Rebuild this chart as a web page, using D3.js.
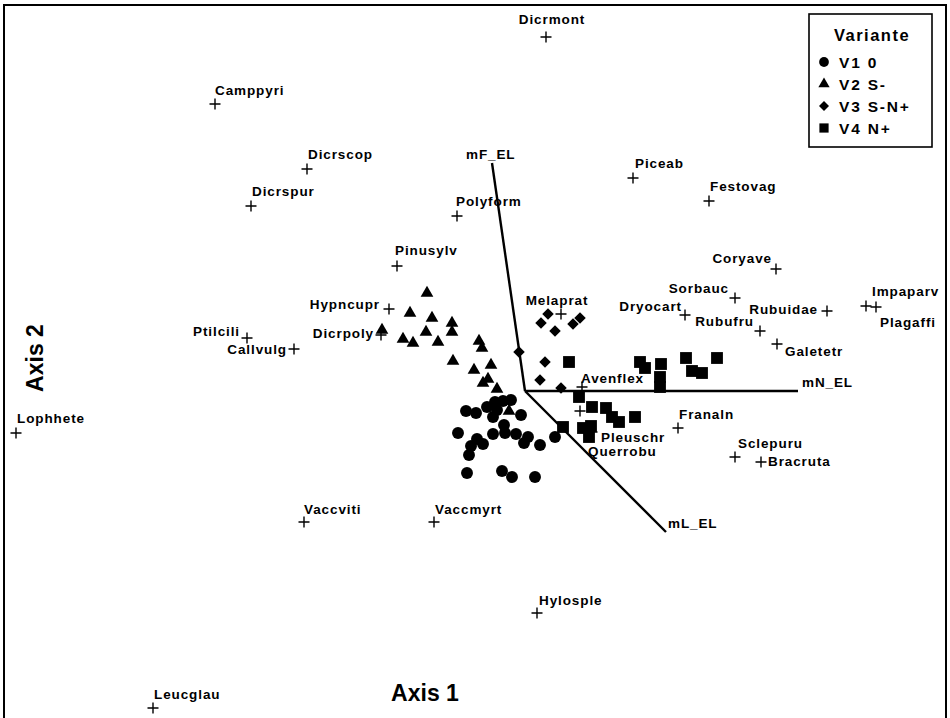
<!DOCTYPE html>
<html>
<head>
<meta charset="utf-8">
<script src="https://cdn.jsdelivr.net/npm/d3@7"></script>
<style>
  body { margin: 0; background: #fff; }
  svg { display: block; }
  text { font-family: "Liberation Sans", Arial, sans-serif; font-weight: bold; fill: #000; }
</style>
</head>
<body>
<svg id="chart" width="950" height="718"></svg>
<script>
// ---- species scores (axis 1, axis 2) ----
const speciesNames = ["Dicrmont","Camppyri","Dicrscop","Dicrspur","Polyform","Piceab","Festovag","Pinusylv",
  "Coryave","Sorbauc","Dryocart","Rubuidae","Impaparv","Plagaffi","Melaprat","Hypncupr","Dicrpoly","Ptilcili",
  "Callvulg","Rubufru","Galetetr","Avenflex","Lophhete","Franaln","Pleuschr","Querrobu","Sclepuru","Bracruta",
  "Vaccviti","Vaccmyrt","Hylosple","Leucglau"];
const speciesAxis1 = [0.21,-3.10,-2.18,-2.74,-0.68,1.08,1.84,-1.28,
  2.51,2.10,1.60,3.02,3.41,3.51,0.36,-1.36,-1.44,-2.78,
  -2.31,2.35,2.52,0.57,-5.09,1.53,0.55,0.67,2.10,2.36,
  -2.21,-0.91,0.12,-3.72];
const speciesAxis2 = [3.54,2.87,2.22,1.85,1.75,2.13,1.90,1.25,
  1.22,0.93,0.76,0.80,0.85,0.84,0.77,0.82,0.56,0.53,
  0.42,0.60,0.47,0.04,-0.42,-0.37,-0.20,-0.41,-0.66,-0.71,
  -1.31,-1.31,-2.22,-3.17];

// ---- environmental vectors ----
const vectorNames = ["mF_EL","mN_EL","mL_EL"];
const vectorAxis1 = [-0.33, 2.73, 1.41];
const vectorAxis2 = [2.28, 0.00, -1.41];

// ---- site scores by variant ----
const variantNames = ["V1 0","V2 S-","V3 S-N+","V4 N+"];
const sitesV1 = [[-0.59,-0.20],[-0.49,-0.22],[-0.38,-0.16],[-0.30,-0.11],[-0.22,-0.10],[-0.14,-0.09],
  [-0.28,-0.19],[-0.32,-0.26],[-0.04,-0.24],[-0.21,-0.34],[-0.20,-0.42],[-0.09,-0.43],[-0.32,-0.43],
  [-0.67,-0.42],[-0.48,-0.48],[-0.42,-0.53],[-0.54,-0.55],[-0.56,-0.64],[0.03,-0.46],[-0.01,-0.52],
  [0.15,-0.54],[0.30,-0.46],[-0.58,-0.82],[-0.23,-0.80],[-0.13,-0.86],[0.10,-0.86]];
const sitesV2 = [[-0.98,0.98],[-1.15,0.78],[-0.93,0.73],[-0.73,0.68],[-0.73,0.59],[-0.99,0.59],
  [-1.22,0.52],[-1.12,0.48],[-0.87,0.49],[-1.43,0.61],[-0.46,0.50],[-0.43,0.43],[-0.72,0.30],
  [-0.51,0.21],[-0.34,0.26],[-0.37,0.12],[-0.42,0.08],[-0.28,0.02],[-0.16,-0.20]];
const sitesV3 = [[0.23,0.77],[0.16,0.68],[0.30,0.60],[0.48,0.67],[0.55,0.73],[0.20,0.29],
  [0.15,0.11],[0.36,0.03],[-0.06,0.39]];
const sitesV4 = [[0.44,0.29],[1.15,0.29],[1.20,0.23],[1.36,0.27],[1.35,0.14],[1.35,0.04],
  [1.61,0.33],[1.92,0.33],[1.67,0.20],[1.77,0.18],[0.54,-0.06],[0.67,-0.16],[0.81,-0.17],
  [0.87,-0.26],[0.94,-0.31],[1.10,-0.26],[0.38,-0.36],[0.58,-0.37],[0.66,-0.35],[0.64,-0.46]];

const axisTitles = ["Axis 1","Axis 2"];
const legendTitle = "Variante";

// ---- label placement (px offset from the marker, anchor) ----
const labelPlacement = {
  Dicrmont:[6,-13,"middle"], Camppyri:[0,-9,"start"], Dicrscop:[1,-10,"start"], Dicrspur:[1,-10,"start"],
  Polyform:[-1,-10,"start"], Piceab:[2,-10,"start"], Festovag:[1,-10,"start"], Pinusylv:[-2,-11,"start"],
  Coryave:[-4,-6,"end"], Sorbauc:[-6,-5,"end"], Dryocart:[-3,-4,"end"], Rubuidae:[-9,3,"end"],
  Impaparv:[6,-10,"start"], Plagaffi:[4,20,"start"], Melaprat:[-4,-9,"middle"], Hypncupr:[-9,0,"end"],
  Dicrpoly:[-7,3,"end"], Ptilcili:[-7,-2,"end"], Callvulg:[-7,5,"end"], Rubufru:[-6,-5,"end"],
  Galetetr:[8,12,"start"], Avenflex:[-1,-4,"start"], Lophhete:[1,-10,"start"], Franaln:[1,-9,"start"],
  Pleuschr:[21,31,"start"], Querrobu:[-4,24,"start"], Sclepuru:[3,-9,"start"], Bracruta:[7,4,"start"],
  Vaccviti:[0,-8,"start"], Vaccmyrt:[1,-8,"start"], Hylosple:[2,-8,"start"], Leucglau:[1,-9,"start"]
};
const vectorLabelPlacement = { mF_EL:[-26,-4,"start"], mN_EL:[4,-4,"start"], mL_EL:[2,-4,"start"] };

const W = 950, H = 718;
const svg = d3.select("#chart");

const x = d3.scaleLinear().domain([-5.25, 4.25]).range([0, W]);
const y = d3.scaleLinear().domain([-3.27, 3.91]).range([H, 0]);

// outer frame
svg.append("rect").attr("x", 4).attr("y", 5).attr("width", 942).attr("height", 720)
  .attr("fill", "none").attr("stroke", "#000").attr("stroke-width", 2);

// symbol generators
const diamond = { draw(ctx, size) { const r = Math.sqrt(size / 2); ctx.moveTo(0, -r); ctx.lineTo(r, 0); ctx.lineTo(0, r); ctx.lineTo(-r, 0); ctx.closePath(); } };
const shapes = [
  d3.symbol().type(d3.symbolCircle).size(112),
  d3.symbol().type(d3.symbolTriangle).size(70),
  d3.symbol().type(diamond).size(66),
  d3.symbol().type(d3.symbolSquare).size(140)
];
const siteGroups = [sitesV1, sitesV2, sitesV3, sitesV4];

// environmental vectors
const origin = [x(0), y(0)];
const vecG = svg.append("g");
vectorNames.forEach((n, i) => {
  vecG.append("line")
    .attr("x1", origin[0]).attr("y1", origin[1])
    .attr("x2", x(vectorAxis1[i])).attr("y2", y(vectorAxis2[i]))
    .attr("stroke", "#000").attr("stroke-width", 2.4);
  const p = vectorLabelPlacement[n];
  vecG.append("text")
    .attr("x", x(vectorAxis1[i]) + p[0]).attr("y", y(vectorAxis2[i]) + p[1])
    .attr("text-anchor", p[2]).attr("font-size", 13.5).attr("letter-spacing", 0.9)
    .text(n);
});

// species: plus markers and names
const spG = svg.append("g");
speciesNames.forEach((n, i) => {
  const px = x(speciesAxis1[i]), py = y(speciesAxis2[i]);
  spG.append("path")
    .attr("d", `M${px - 5.5},${py}H${px + 5.5}M${px},${py - 5.5}V${py + 5.5}`)
    .attr("stroke", "#000").attr("stroke-width", 1.4);
  const p = labelPlacement[n];
  spG.append("text")
    .attr("x", px + p[0]).attr("y", py + p[1])
    .attr("text-anchor", p[2]).attr("font-size", 13.5).attr("letter-spacing", 0.9)
    .text(n);
});

// sites
siteGroups.forEach((pts, g) => {
  svg.append("g").selectAll("path").data(pts).join("path")
    .attr("transform", d => `translate(${x(d[0])},${y(d[1])})`)
    .attr("d", shapes[g]())
    .attr("fill", "#000");
});

// axis titles
svg.append("text").attr("x", 425).attr("y", 701).attr("text-anchor", "middle")
  .attr("font-size", 23).text(axisTitles[0]);
svg.append("text").attr("transform", "translate(43,358) rotate(-90)").attr("text-anchor", "middle")
  .attr("font-size", 23).text(axisTitles[1]);

// legend
const lg = svg.append("g");
lg.append("rect").attr("x", 809).attr("y", 14).attr("width", 123).attr("height", 133)
  .attr("fill", "#fff").attr("stroke", "#000").attr("stroke-width", 1.6);
lg.append("text").attr("x", 872).attr("y", 41).attr("text-anchor", "middle")
  .attr("font-size", 16.5).attr("letter-spacing", 1.5).text(legendTitle);
const legendShapes = [
  d3.symbol().type(d3.symbolCircle).size(75),
  d3.symbol().type(d3.symbolTriangle).size(55),
  d3.symbol().type(diamond).size(50),
  d3.symbol().type(d3.symbolSquare).size(85)
];
variantNames.forEach((v, i) => {
  const ly = 62 + i * 22;
  lg.append("path").attr("transform", `translate(824,${ly})`).attr("d", legendShapes[i]()).attr("fill", "#000");
  lg.append("text").attr("x", 839).attr("y", ly + 5.5).attr("font-size", 15.5).attr("letter-spacing", 1.8).text(v);
});
</script>
</body>
</html>
